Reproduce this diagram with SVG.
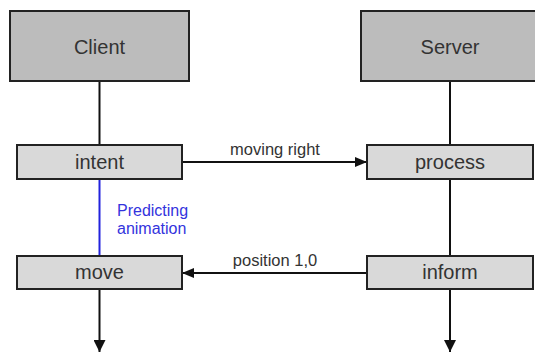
<svg xmlns="http://www.w3.org/2000/svg" width="535" height="354" viewBox="0 0 535 354">
<defs>
<marker id="ah" viewBox="0 0 12 10" refX="12" refY="5" markerWidth="12" markerHeight="10" markerUnits="userSpaceOnUse" orient="auto">
<path d="M0,0 L12,5 L0,10 z" fill="#111"/>
</marker>
<marker id="ahd" viewBox="0 0 12 12" refX="12" refY="6" markerWidth="12" markerHeight="12" markerUnits="userSpaceOnUse" orient="auto">
<path d="M0,0 L12,6 L0,12 z" fill="#111"/>
</marker>
<style>
.big{fill:#bcbcbc;stroke:#222;stroke-width:2}
.small{fill:#d9d9d9;stroke:#222;stroke-width:2}
.t{font-family:"Liberation Sans",Arial,sans-serif;fill:#333;text-anchor:middle;font-size:20px}
.ln{stroke:#111;stroke-width:2;fill:none}
.lbl{font-family:"Liberation Sans",Arial,sans-serif;font-size:16.5px;fill:#333;text-anchor:middle}
.blue{font-family:"Liberation Sans",Arial,sans-serif;font-size:16px;fill:#3333dd}
</style>
</defs>
<rect width="535" height="354" fill="#fff"/>
<g id="connectors">
<line class="ln" x1="99.5" y1="82" x2="99.5" y2="145"/>
<line x1="99.5" y1="179" x2="99.5" y2="256" stroke="#2222dd" stroke-width="2"/>
<line class="ln" x1="99.5" y1="289" x2="99.5" y2="352" marker-end="url(#ahd)"/>
<line class="ln" x1="450" y1="82" x2="450" y2="145"/>
<line class="ln" x1="450" y1="179" x2="450" y2="256"/>
<line class="ln" x1="450" y1="289" x2="450" y2="352" marker-end="url(#ahd)"/>
<line class="ln" x1="182" y1="162" x2="367" y2="162" marker-end="url(#ah)"/>
<line class="ln" x1="367" y1="273" x2="182" y2="273" marker-end="url(#ah)"/>
<text class="lbl" x="275" y="155">moving right</text>
<text class="lbl" x="275" y="266">position 1,0</text>
<text class="blue" x="117" y="216">Predicting</text>
<text class="blue" x="117" y="234">animation</text>
</g>
<g id="client">
<rect class="big" x="10" y="11" width="179" height="70"/>
<text class="t" x="99.5" y="54">Client</text>
</g>
<g id="server">
<rect class="big" x="361" y="11" width="178" height="70"/>
<text class="t" x="450" y="54">Server</text>
</g>
<g id="intent">
<rect class="small" x="17" y="145" width="165" height="34"/>
<text class="t" x="99.5" y="169">intent</text>
</g>
<g id="move">
<rect class="small" x="17" y="256" width="165" height="33"/>
<text class="t" x="99.5" y="279">move</text>
</g>
<g id="process">
<rect class="small" x="367" y="145" width="166" height="34"/>
<text class="t" x="450" y="169">process</text>
</g>
<g id="inform">
<rect class="small" x="367" y="256" width="166" height="33"/>
<text class="t" x="450" y="279">inform</text>
</g>
</svg>
